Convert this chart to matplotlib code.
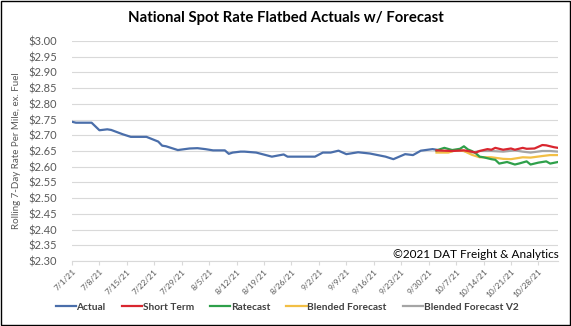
import matplotlib
matplotlib.use("Agg")
import matplotlib.pyplot as plt
import pandas as pd
from matplotlib.patches import Rectangle
from matplotlib.lines import Line2D

start = pd.Timestamp("2021-07-01")

# Day offsets from 7/1/21 and values
actual_days = [0, 1, 5, 7, 9, 10, 13, 15, 19, 22, 23, 24, 27, 30, 32, 34, 36, 39, 40, 41, 43, 44,
               47, 51, 54, 55, 62, 64, 66, 68, 70, 73, 76, 80, 82, 85, 87, 89, 92, 93]
actual_vals = [2.743, 2.740, 2.740, 2.716, 2.719, 2.717, 2.703, 2.695, 2.695, 2.680, 2.667, 2.665,
               2.653, 2.658, 2.659, 2.656, 2.652, 2.652, 2.641, 2.645, 2.648, 2.648,
               2.645, 2.632, 2.639, 2.632, 2.632, 2.645, 2.645, 2.651, 2.640, 2.646, 2.642,
               2.632, 2.624, 2.640, 2.637, 2.651, 2.656, 2.654]

short_days = [93, 97, 100, 102, 103, 104, 106, 107, 108, 110, 112, 113, 115, 116, 118, 120, 121, 123, 124]
short_vals = [2.652, 2.650, 2.652, 2.648, 2.645, 2.650, 2.656, 2.654, 2.660, 2.654, 2.658, 2.654,
              2.660, 2.657, 2.658, 2.669, 2.668, 2.662, 2.660]

ratecast_days = [93, 95, 97, 99, 100, 101, 102, 103, 104, 105, 107, 108, 109, 111, 113, 114, 116, 117,
                 119, 121, 122, 124]
ratecast_vals = [2.652, 2.660, 2.653, 2.657, 2.665, 2.655, 2.650, 2.643, 2.632, 2.630, 2.624, 2.622,
                 2.610, 2.615, 2.607, 2.610, 2.617, 2.607, 2.613, 2.617, 2.610, 2.615]

blended_days = [93, 96, 98, 100, 102, 104, 107, 110, 112, 115, 117, 120, 122, 124]
blended_vals = [2.645, 2.645, 2.653, 2.650, 2.638, 2.630, 2.630, 2.625, 2.624, 2.630, 2.629, 2.634,
                2.637, 2.637]

v2_days = [93, 96, 98, 100, 102, 104, 107, 110, 113, 115, 117, 120, 122, 124]
v2_vals = [2.650, 2.648, 2.652, 2.650, 2.645, 2.650, 2.650, 2.648, 2.652, 2.648, 2.645, 2.650,
           2.650, 2.648]

tick_labels = ["7/1/21", "7/8/21", "7/15/21", "7/22/21", "7/29/21", "8/5/21", "8/12/21", "8/19/21",
               "8/26/21", "9/2/21", "9/9/21", "9/16/21", "9/23/21", "9/30/21", "10/7/21", "10/14/21",
               "10/21/21", "10/28/21"]
y_ticks = [2.30, 2.35, 2.40, 2.45, 2.50, 2.55, 2.60, 2.65, 2.70, 2.75, 2.80, 2.85, 2.90, 2.95, 3.00]

def to_dates(days):
    return [start + pd.Timedelta(days=d) for d in days]

series = [
    ("Actual", actual_days, actual_vals, "#4a6eaa"),
    ("Short Term", short_days, short_vals, "#d9262f"),
    ("Ratecast", ratecast_days, ratecast_vals, "#2ea04a"),
    ("Blended Forecast", blended_days, blended_vals, "#f2bf45"),
    ("Blended Forecast V2", v2_days, v2_vals, "#a5a5a5"),
]

plt.rcParams['font.family'] = ['Lato', 'DejaVu Sans']

fig = plt.figure(figsize=(5.71, 3.26), dpi=100)
ax = fig.add_axes([72 / 571, 1 - 261 / 326, (558 - 72) / 571, (261 - 41) / 326])

for i in [0, 4, 3, 2, 1]:
    name, d, v, c = series[i]
    ax.plot(to_dates(d), v, color=c, lw=1.6, solid_joinstyle='round', zorder=3)

ax.set_ylim(2.30, 3.00)
ax.set_yticks(y_ticks)
ax.set_yticklabels([f"${t:.2f}" for t in y_ticks], fontsize=8, color="#595959")
ax.set_xlim(start, start + pd.Timedelta(days=124))
tick_dates = [pd.Timestamp(f"20{l.split('/')[2]}-{l.split('/')[0]}-{l.split('/')[1]}") for l in tick_labels]
ax.set_xticks(tick_dates)
ax.set_xticklabels(tick_labels, rotation=45, ha='right', rotation_mode='anchor', fontsize=6, color="#595959")
ax.grid(axis='y', color="#d9d9d9", lw=0.8)
ax.set_axisbelow(True)
for s in ['top', 'right', 'left']:
    ax.spines[s].set_visible(False)
ax.spines['bottom'].set_color("#d9d9d9")
ax.tick_params(axis='y', length=0, pad=11)
ax.tick_params(axis='x', length=3, color="#d9d9d9", pad=2)

ax.set_ylabel("Rolling 7-Day Rate Per Mile, ex. Fuel", fontsize=7, color="#595959", labelpad=5)

fig.text(0.5, 1 - 18 / 326, "National Spot Rate Flatbed Actuals w/ Forecast", ha='center', va='center',
         fontsize=10.7, fontweight='bold', color='black')
fig.text(559 / 571, 1 - 254 / 326, "©2021 DAT Freight & Analytics", ha='right', va='center',
         fontsize=8.5, color='black')

handles = [Line2D([0], [0], color=c, lw=1.6) for _, _, _, c in series]
labels = [n for n, _, _, _ in series]
leg = fig.legend(handles, labels, loc='center', bbox_to_anchor=(287 / 571, 1 - 307 / 326), ncol=5, frameon=False,
                 fontsize=7.3, handlelength=2.0, handletextpad=0.05, columnspacing=1.6)
for t in leg.get_texts():
    t.set_color("#404040")
    t.set_fontweight('bold')

fig.patches.append(Rectangle((0.002, 0.003), 0.996, 0.994, transform=fig.transFigure, fill=False,
                             edgecolor='black', lw=1.0))

fig.savefig("out.png", dpi=100)
